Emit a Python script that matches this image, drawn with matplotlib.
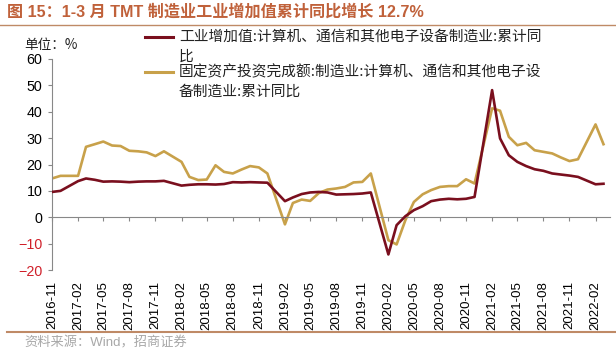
import pandas as pd
import matplotlib.pyplot as plt
import matplotlib.dates as mdates
from matplotlib.lines import Line2D

plt.rcParams['font.family'] = ['Liberation Sans', 'Noto Sans CJK SC', 'DejaVu Sans']

# monthly cumulative YoY (%), January not published
months = ["2016-11", "2016-12",
          "2017-02", "2017-03", "2017-04", "2017-05", "2017-06", "2017-07",
          "2017-08", "2017-09", "2017-10", "2017-11", "2017-12",
          "2018-02", "2018-03", "2018-04", "2018-05", "2018-06", "2018-07",
          "2018-08", "2018-09", "2018-10", "2018-11", "2018-12",
          "2019-02", "2019-03", "2019-04", "2019-05", "2019-06", "2019-07",
          "2019-08", "2019-09", "2019-10", "2019-11", "2019-12",
          "2020-02", "2020-03", "2020-04", "2020-05", "2020-06", "2020-07",
          "2020-08", "2020-09", "2020-10", "2020-11", "2020-12",
          "2021-02", "2021-03", "2021-04", "2021-05", "2021-06", "2021-07",
          "2021-08", "2021-09", "2021-10", "2021-11", "2021-12",
          "2022-02", "2022-03"]

iva = [9.6, 10.0,
       13.7, 14.7, 14.2, 13.5, 13.6, 13.5, 13.3, 13.5, 13.6, 13.6, 13.8,
       12.0, 12.3, 12.5, 12.5, 12.4, 12.6, 13.3, 13.2, 13.3, 13.2, 13.1,
       6.1, 7.5, 8.8, 9.4, 9.6, 9.4, 8.6, 8.7, 8.8, 9.0, 9.4,
       -14.1, -3.0, 0.4, 2.7, 4.2, 6.1, 6.7, 7.0, 6.8, 7.0, 7.7,
       48.2, 29.9, 23.5, 21.0, 19.4, 18.2, 17.6, 16.6, 16.2, 15.8, 15.3,
       12.5, 12.7]

fai = [14.7, 15.7,
       15.7, 26.7, 27.7, 28.7, 27.2, 27.0, 25.2, 25.0, 24.6, 23.2, 25.0,
       21.0, 15.3, 14.1, 14.3, 19.7, 17.2, 16.6, 18.1, 19.4, 18.9, 16.6,
       -2.7, 5.4, 6.7, 6.2, 9.2, 10.5, 10.9, 11.5, 13.2, 13.4, 16.6,
       -8.7, -10.3, -1.1, 5.8, 8.7, 10.3, 11.5, 11.8, 11.8, 14.4, 12.8,
       41.3, 40.4, 30.5, 27.3, 28.2, 25.4, 24.8, 24.2, 22.7, 21.3, 22.0,
       35.2, 27.7]

iva_label = "工业增加值:计算机、通信和其他电子设备制造业:累计同\n比"
fai_label = "固定资产投资完成额:制造业:计算机、通信和其他电子设\n备制造业:累计同比"
title = "图 15：1-3 月 TMT 制造业工业增加值累计同比增长 12.7%"
source = "资料来源：Wind，招商证券"

red = "#7A0F1E"
gold = "#C8A14A"
brown = "#BF8A66"

dates = pd.to_datetime(months)

fig = plt.figure(figsize=(6.16, 3.53), dpi=100)
ax = fig.add_axes([52 / 616, 1 - 270 / 353, (610 - 52) / 616, (270 - 59) / 353])

ax.plot(dates, iva, color=red, lw=1.9, zorder=3)
ax.plot(dates, fai, color=gold, lw=1.9, zorder=2)

ax.set_ylim(-20, 60)
ax.set_yticks(range(-20, 61, 10))
ax.set_xlim(pd.Timestamp("2016-11-01"), pd.Timestamp("2022-03-24"))
ax.xaxis.set_major_locator(mdates.MonthLocator(bymonth=[2, 5, 8, 11]))
ax.xaxis.set_major_formatter(mdates.DateFormatter("%Y-%m"))

ax.spines['top'].set_visible(False)
ax.spines['right'].set_visible(False)
ax.spines['bottom'].set_position(('data', 0))
for s in ['left', 'bottom']:
    ax.spines[s].set_color("#888888")
    ax.spines[s].set_linewidth(0.8)

ax.tick_params(axis='x', direction='out', length=3, color="#888888",
               labelrotation=90, labelsize=9.5, pad=43)
ax.tick_params(axis='y', direction='out', length=3, color="#888888",
               labelsize=10.3, pad=4)
for lab, v in zip(ax.get_yticklabels(), ax.get_yticks()):
    lab.set_color("#D0202A" if v < 0 else "black")

# legend drawn by hand so the handle sits on the first text line
cjk = ['Noto Sans CJK SC', 'DejaVu Sans']
for y0, col, lab in [(37, red, iva_label), (72, gold, fai_label)]:
    fig.add_artist(Line2D([145 / 616, 173 / 616], [1 - y0 / 353] * 2,
                          color=col, lw=2.2, transform=fig.transFigure))
    for i, part in enumerate(lab.split("\n")):
        fig.text(179 / 616, 1 - (y0 + 19.5 * i) / 353, part, fontsize=10.6,
                 va='center', ha='left', color="#222222", family=cjk)

fig.text(24 / 616, 1 - 45 / 353, "单位：%", fontsize=9.8, va='center',
         color="#222222", family=cjk)

fig.text(7 / 616, 1 - 12 / 353, title, fontsize=11.6, fontweight='bold',
         color="#C0613A", va='center', ha='left')
fig.add_artist(Line2D([0, 1], [1 - 25 / 353] * 2, color=brown, lw=1.0,
                      transform=fig.transFigure))
fig.add_artist(Line2D([7 / 616, 1], [1 - 332 / 353] * 2, color=brown, lw=1.5,
                      transform=fig.transFigure))
fig.text(24 / 616, 1 - 343 / 353, source, fontsize=9.5, color="#A8A8A8",
         va='center', ha='left')

fig.savefig("out.png", dpi=100)
